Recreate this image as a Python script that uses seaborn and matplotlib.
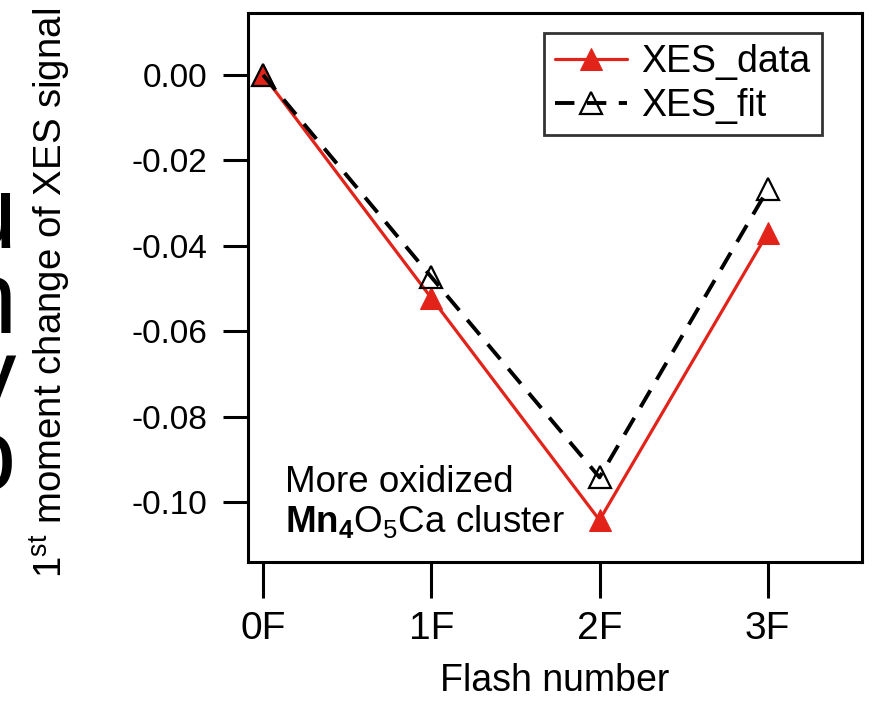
import pandas as pd
import matplotlib
matplotlib.use("Agg")
import matplotlib.pyplot as plt
import seaborn as sns

# data
flashes = ["0F", "1F", "2F", "3F"]
xes_data = [0.000, -0.0522, -0.1042, -0.0370]
xes_fit = [0.000, -0.0473, -0.0942, -0.0268]
y_ticks = [0.00, -0.02, -0.04, -0.06, -0.08, -0.10]

RED = "#e2231a"

sns.set_style("ticks")
plt.rcParams["font.family"] = ["Liberation Sans", "DejaVu Sans"]
plt.rcParams["mathtext.fontset"] = "custom"
plt.rcParams["mathtext.rm"] = "Liberation Sans"
plt.rcParams["mathtext.it"] = "Liberation Sans:italic"
plt.rcParams["mathtext.bf"] = "Liberation Sans:bold"
for k in ["text.color", "axes.labelcolor", "xtick.color", "ytick.color", "axes.edgecolor"]:
    plt.rcParams[k] = "black"

df = pd.DataFrame({
    "x": list(range(len(flashes))) * 2,
    "y": xes_data + xes_fit,
    "series": ["XES_data"] * len(flashes) + ["XES_fit"] * len(flashes),
})

fig = plt.figure(figsize=(8.84, 7.06), dpi=100)
ax = fig.add_axes([0.2805, 0.204, 0.6945, 0.7776])

d = df[df.series == "XES_data"]
f = df[df.series == "XES_fit"]
sns.lineplot(data=d, x="x", y="y", ax=ax, color=RED, lw=2.3,
             marker="^", markersize=16, markeredgecolor=RED,
             markerfacecolor=RED, label="XES_data")
sns.lineplot(data=f, x="x", y="y", ax=ax, color="black", lw=2.8,
             linestyle=(0, (5, 3.2)), marker="^", markersize=16,
             markerfacecolor="none", markeredgecolor="black",
             markeredgewidth=1.6, label="XES_fit")

ax.set_xlim(-0.09, 3.56)
ax.set_ylim(-0.114, 0.0145)
ax.set_xticks(range(len(flashes)))
ax.set_xticklabels(flashes, fontsize=28)
ax.set_yticks(y_ticks)
ax.set_yticklabels([f"{v:.2f}" for v in y_ticks], fontsize=24)
ax.tick_params(axis="y", length=18, width=2.2, pad=11)
ax.tick_params(axis="x", length=26, width=2.2, pad=9)
for s in ax.spines.values():
    s.set_linewidth(2.2)

ax.set_xlabel("Flash number", fontsize=27, labelpad=12)
ax.set_ylabel("")
fig.text(0.056, 0.585, r"1$^{\rm st}$ moment change of XES signal",
         rotation=90, ha="center", va="center", fontsize=27.6)

ax.text(0.06, 0.04, "More oxidized\n" + r"$\mathbf{Mn_4}$O$_5$Ca cluster",
        transform=ax.transAxes, fontsize=26.5, ha="left", va="bottom",
        linespacing=1.1)

leg = ax.legend(loc="upper right", bbox_to_anchor=(0.935, 0.9636),
                fontsize=27, frameon=True, fancybox=False, handlelength=1.9,
                borderpad=0.3, labelspacing=0.2, handletextpad=0.4,
                borderaxespad=0)
leg.get_frame().set_edgecolor("black")
leg.get_frame().set_linewidth(2.0)

# clipped letters from the neighbouring panel at the left edge
for ch, yb in zip(["u", "n", "y", "o"], [248, 333, 410, 490]):
    fig.text(16 / 884, 1 - yb / 706, ch, ha="right", va="baseline",
             fontsize=74, color="black")

fig.savefig("out.png", dpi=100)
